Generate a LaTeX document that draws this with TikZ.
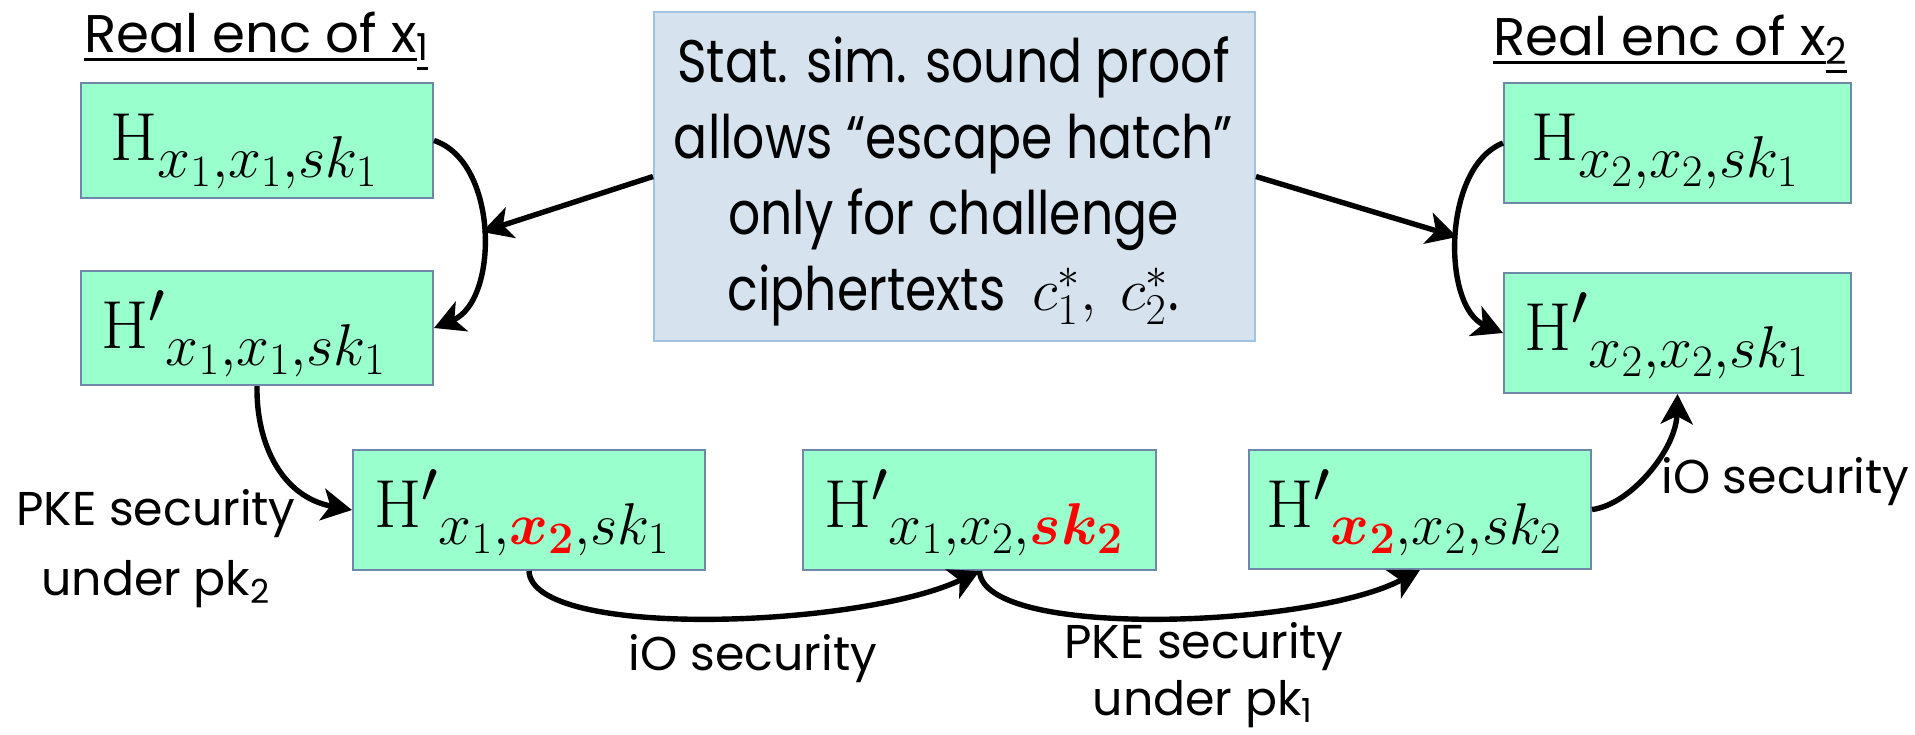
\RequirePackage{fix-cm}
\documentclass[tikz,border=0pt]{standalone}
\usepackage[no-math]{fontspec}
\setmainfont{Poppins}
\newfontfamily\notefont{Poppins}[FakeStretch=0.84]
\usepackage{bm}
\usetikzlibrary{arrows.meta,calc}

% larger sub/superscripts for the state labels
\DeclareMathSizes{34}{34}{29.5}{22.5}
\DeclareMathSizes{30}{30}{22}{17}

\definecolor{mint}{RGB}{153,255,204}
\definecolor{mintedge}{RGB}{112,136,168}
\definecolor{notefill}{RGB}{214,227,238}
\definecolor{noteedge}{RGB}{160,195,225}
\newcommand{\hl}[1]{\textcolor{red}{\bm{#1}}}
% thick underline for the column titles
\newcommand{\ulbar}[1]{\setbox0=\hbox{#1}\rlap{\rule[-4.5pt]{\wd0}{1.4pt}}\box0}

\tikzset{
  hbox/.style={draw=mintedge, line width=1pt, fill=mint, inner sep=0pt, anchor=north west},
  notebox/.style={draw=noteedge, line width=1pt, fill=notefill, inner sep=0pt, anchor=north west},
  mathtxt/.style={font=\fontsize{34pt}{40pt}\selectfont, inner sep=0pt, anchor=base west},
  notetext/.style={font=\notefont\fontsize{30pt}{38pt}\selectfont, inner sep=0pt, anchor=base},
  lbl/.style={font=\fontsize{23.7pt}{28pt}\selectfont, inner sep=0pt, anchor=base},
  ttl/.style={font=\fontsize{26.5pt}{30pt}\selectfont, inner sep=0pt, anchor=base west},
  conn/.style={line width=2.7pt, -{Stealth[length=15pt, width=16pt, inset=4pt]}},
}

\begin{document}
\begin{tikzpicture}[x=0.5pt, y=-0.5pt]
\useasboundingbox (0,0) rectangle (1915,734);

% column titles
\node[ttl] (t1) at (84,52) {\ulbar{Real enc of x}\textsubscript{\ulbar{1}}};
\node[ttl] (t2) at (1493,55) {\ulbar{Real enc of x}\textsubscript{\ulbar{2}}};

% hybrid boxes
\node[hbox, minimum width=176pt, minimum height=57.5pt] (b1) at (80,82) {};
\node[hbox, minimum width=176pt, minimum height=57pt]   (b2) at (80,270) {};
\node[hbox, minimum width=173.5pt, minimum height=60pt] (b3) at (1503,82) {};
\node[hbox, minimum width=173.5pt, minimum height=60pt] (b4) at (1503,272) {};
\node[hbox, minimum width=176pt, minimum height=60pt]   (b5) at (352,449) {};
\node[hbox, minimum width=176.5pt, minimum height=60pt] (b6) at (802,449) {};
\node[hbox, minimum width=171pt, minimum height=59.5pt] (b7) at (1248,449) {};

\node[mathtxt] (b1t) at ($(b1.north west)+(30,78)$) {$\mathrm{H}_{x_1,x_1,sk_1}$};
\node[mathtxt] (b2t) at ($(b2.north west)+(21,78)$) {${\mathrm{H}'}_{x_1,x_1,sk_1}$};
\node[mathtxt] (b3t) at ($(b3.north west)+(28,78)$) {$\mathrm{H}_{x_2,x_2,sk_1}$};
\node[mathtxt] (b4t) at ($(b4.north west)+(21,78)$) {${\mathrm{H}'}_{x_2,x_2,sk_1}$};
\node[mathtxt] (b5t) at ($(b5.north west)+(22,78)$) {${\mathrm{H}'}_{x_1,\hl{x_2},sk_1}$};
\node[mathtxt] (b6t) at ($(b6.north west)+(22,78)$) {${\mathrm{H}'}_{x_1,x_2,\hl{sk_2}}$};
\node[mathtxt] (b7t) at ($(b7.north west)+(18,78)$) {${\mathrm{H}'}_{\hl{x_2},x_2,sk_2}$};

% central note
\node[notebox, minimum width=300.5pt, minimum height=164.5pt] (cbox) at (653,11) {};
\node[notetext] (ctext) at (953.5,82) {\begin{tabular}[t]{@{}c@{}}
  Stat. sim. sound proof\\
  allows “escape hatch”\\
  only for challenge\\
  ciphertexts \ $c_1^*,\ c_2^*$.
\end{tabular}};

% points where the note's arrows meet the curved transitions
\coordinate (lmid) at (482,232);
\coordinate (rmid) at (1457,237);

% transitions
\draw[conn] (b1.east) .. controls (499,162) and (499,301) .. (b2.east);
\draw[conn] (b3.west) .. controls (1442,167) and (1442,307) .. (b4.west);
\draw[conn] (cbox.west) -- (lmid);
\draw[conn] (cbox.east) -- (rmid);
\draw[conn] (b2.south) .. controls (256,444) and (282,497) .. (b5.west);
\draw[conn] (b5.south) .. controls (532,640) and (860,628) .. (b6.south);
\draw[conn] (b6.south) .. controls (983,640) and (1311,628) .. (b7.south);
\draw[conn] (b7.east) .. controls (1630,505) and (1676,450) .. (b4.south);

% transition labels
\node[lbl] (pkeA) at (156,525) {PKE security};
\node[lbl] (pkeAu) at (156,595) {under pk\textsubscript{2}};
\node[lbl] (ioA) at (753,670) {iO security};
\node[lbl] (pkeB) at (1204,658) {PKE security};
\node[lbl] (pkeBu) at (1203,715) {under pk\textsubscript{1}};
\node[lbl, anchor=base west] (ioB) at (1661,493) {iO security};
\end{tikzpicture}
\end{document}
